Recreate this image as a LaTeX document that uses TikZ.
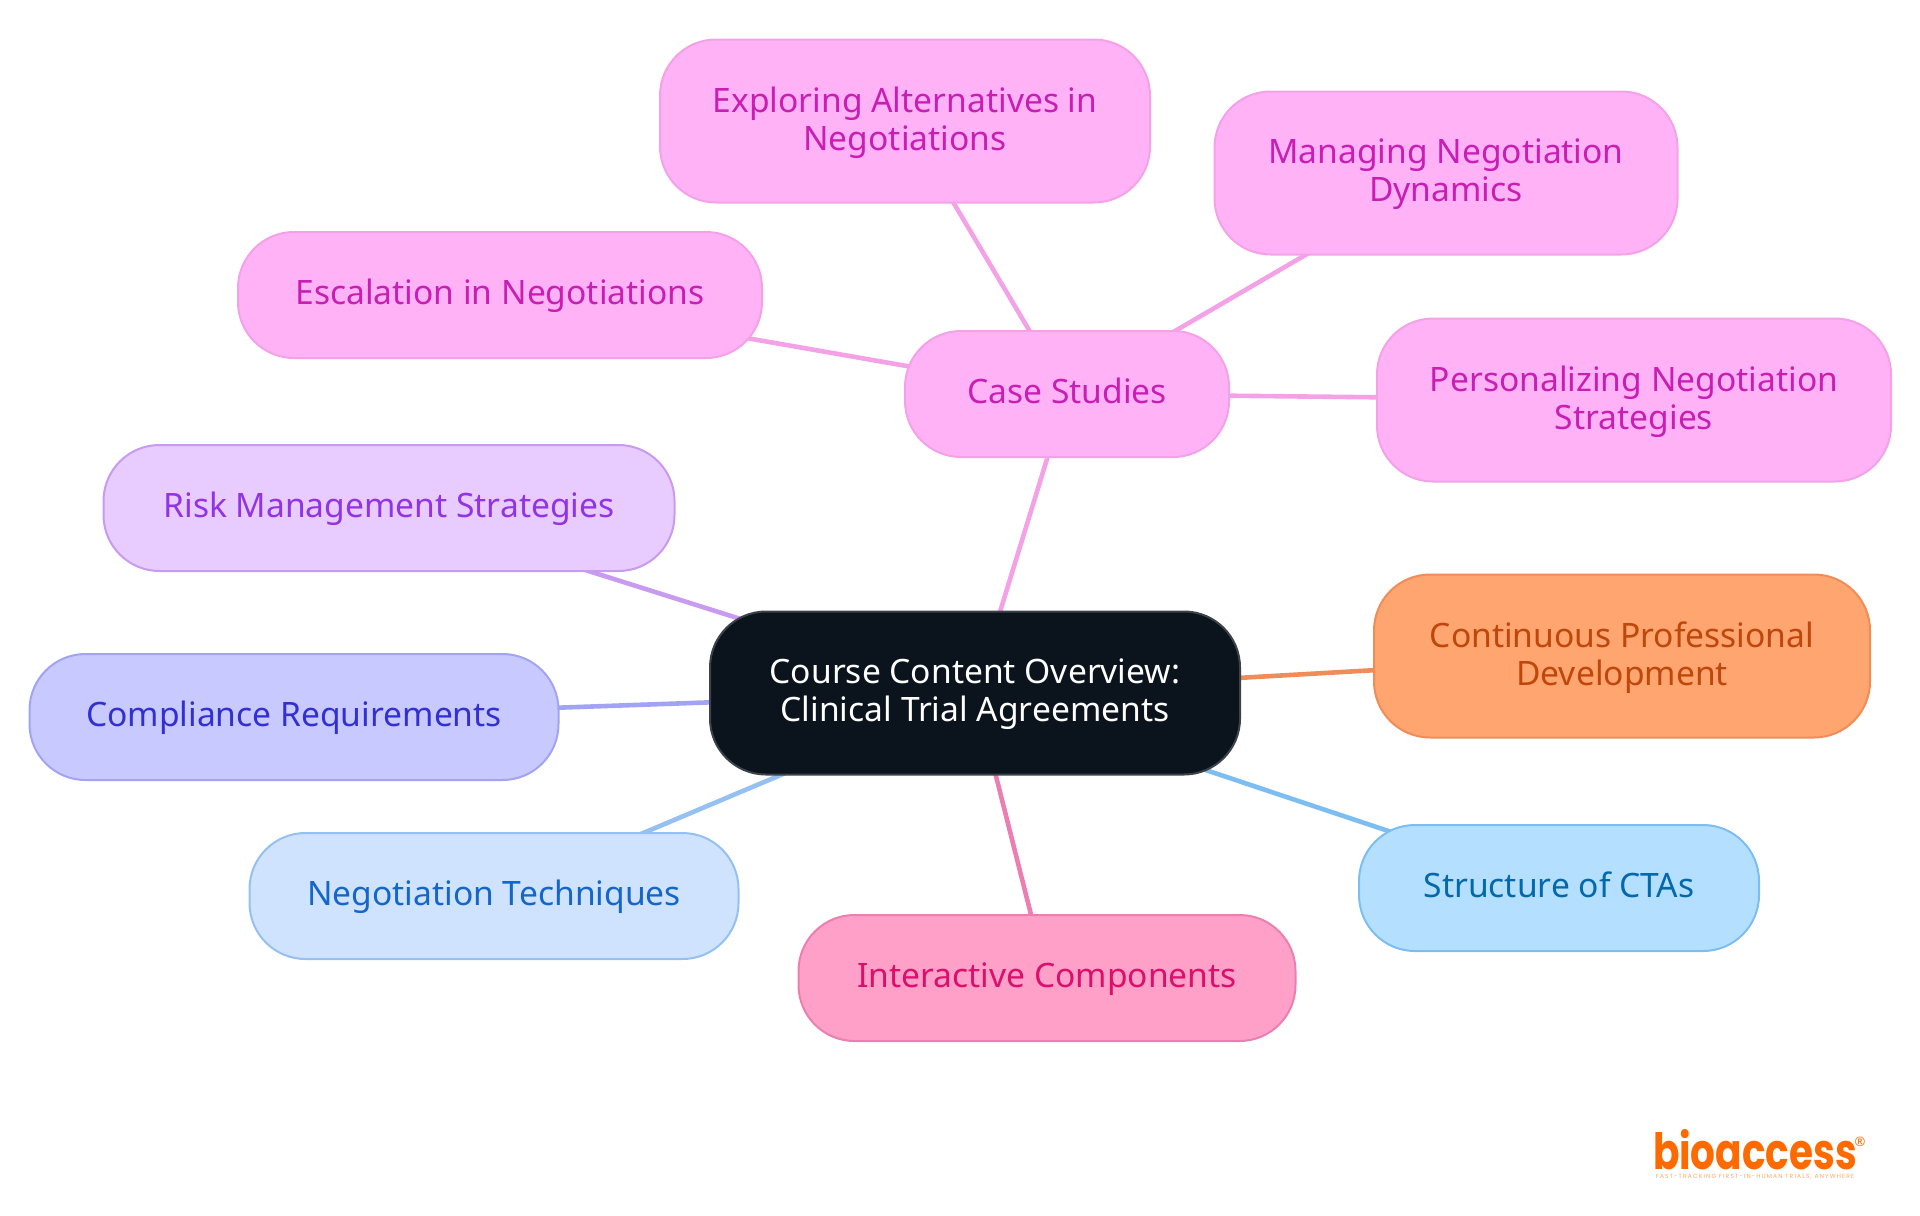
\documentclass[tikz,border=0pt]{standalone}
\usepackage{fontspec}
\setmainfont{Noto Sans}
\newfontfamily\logofont[FakeStretch=0.78]{Poppins}
\newfontfamily\tagfont[LetterSpace=19]{Poppins}
\usetikzlibrary{backgrounds}

\definecolor{rootfill}{HTML}{0B131C}
\definecolor{rootline}{HTML}{3C4249}
\definecolor{caseFill}{HTML}{FFB3F6}
\definecolor{caseLine}{HTML}{F3A2E8}
\definecolor{caseText}{HTML}{C81EB4}
\definecolor{riskFill}{HTML}{E8CBFF}
\definecolor{riskLine}{HTML}{C89BF0}
\definecolor{riskText}{HTML}{9233E6}
\definecolor{compFill}{HTML}{C8CAFF}
\definecolor{compLine}{HTML}{A2A3F5}
\definecolor{compText}{HTML}{3230D2}
\definecolor{negoFill}{HTML}{CFE3FF}
\definecolor{negoLine}{HTML}{95C0F2}
\definecolor{negoText}{HTML}{1467C8}
\definecolor{interFill}{HTML}{FFA0C9}
\definecolor{interLine}{HTML}{EB7FB2}
\definecolor{interText}{HTML}{DB0F6C}
\definecolor{structFill}{HTML}{B5DFFF}
\definecolor{structLine}{HTML}{7CBEF2}
\definecolor{structText}{HTML}{0369AA}
\definecolor{contFill}{HTML}{FFA56F}
\definecolor{contLine}{HTML}{EF8C58}
\definecolor{contText}{HTML}{BF470C}
\definecolor{logoOrange}{HTML}{FF6A00}

\begin{document}
\begin{tikzpicture}[x=0.5pt,y=-0.5pt,semithick]
  \tikzstyle{every node}=[font=\fontsize{16.8}{19}\selectfont,align=center]
  \tikzstyle{box}=[rectangle,rounded corners=28pt,line width=1pt,inner sep=0pt]
  \tikzstyle{topic}=[box,minimum height=63pt,text height=12pt,text depth=2.5pt]
  \tikzstyle{tall}=[box,minimum height=81.5pt,text depth=2.6pt]
  \tikzstyle{spoke}=[line width=2.3pt]
  \tikzstyle{casebox}=[fill=caseFill,draw=caseLine,text=caseText]

  \useasboundingbox (0,0) rectangle (1920,1215);

  \node[tall,fill=rootfill,draw=rootline,text=white,minimum width=265pt] (ROOT) at (975,693)
  {Course Content Overview:\\Clinical Trial Agreements};

  \node[topic,casebox,minimum width=162pt]   (CS) at (1067,394) {Case Studies};
  \node[tall,casebox,minimum width=245pt]    (EA) at (905,121) {Exploring Alternatives in\\Negotiations};
  \node[tall,casebox,minimum width=231.5pt]  (MD) at (1446,173) {Managing Negotiation\\Dynamics};
  \node[topic,casebox,minimum width=262pt]   (EN) at (500,295) {Escalation in Negotiations};
  \node[tall,casebox,minimum width=257pt]    (PN) at (1634,400) {Personalizing Negotiation\\Strategies};

  \node[topic,fill=riskFill,draw=riskLine,text=riskText,minimum width=285.5pt] (RM) at (389,508) {Risk Management Strategies};
  \node[topic,fill=compFill,draw=compLine,text=compText,minimum width=264.5pt] (CR) at (294,717) {Compliance Requirements};
  \node[topic,fill=negoFill,draw=negoLine,text=negoText,minimum width=244.5pt] (NT) at (494,896) {Negotiation Techniques};
  \node[topic,fill=interFill,draw=interLine,text=interText,minimum width=248.5pt] (IC) at (1047,978) {Interactive Components};
  \node[topic,fill=structFill,draw=structLine,text=structText,minimum width=200pt] (SC) at (1559,888) {Structure of CTAs};
  \node[tall,fill=contFill,draw=contLine,text=contText,minimum width=248pt] (CP) at (1622,656) {Continuous Professional\\Development};

  % logo in the corner
  \node[text=logoOrange,inner sep=0pt,anchor=base,font=\logofont\bfseries\fontsize{25}{26}\selectfont] (LOGO) at (1755,1169) {bioaccess};
  \node[text=logoOrange,inner sep=0pt,font=\bfseries\fontsize{6.5}{6.5}\selectfont] (REG) at (1860,1142) {\textregistered};
  \node[text=logoOrange!60,inner sep=0pt,font=\tagfont\fontsize{3}{4}\selectfont] (TAG) at (1755,1177) {FAST-TRACKING FIRST-IN-HUMAN TRIALS, ANYWHERE};

  \begin{pgfonlayer}{background}
  \path (CS.center) edge [spoke,draw=caseLine] (ROOT.center)
        (CS.center) edge [spoke,draw=caseLine] (EA.center)
        (CS.center) edge [spoke,draw=caseLine] (MD.center)
        (CS.center) edge [spoke,draw=caseLine] (EN.center)
        (CS.center) edge [spoke,draw=caseLine] (PN.center)
        (ROOT.center) edge [spoke,draw=riskLine] (RM.center)
        (ROOT.center) edge [spoke,draw=compLine] (CR.center)
        (ROOT.center) edge [spoke,draw=negoLine] (NT.center)
        (ROOT.center) edge [spoke,draw=interLine] (IC.center)
        (ROOT.center) edge [spoke,draw=structLine] (SC.center)
        (ROOT.center) edge [spoke,draw=contLine] (CP.center);
  \end{pgfonlayer}
\end{tikzpicture}
\end{document}
